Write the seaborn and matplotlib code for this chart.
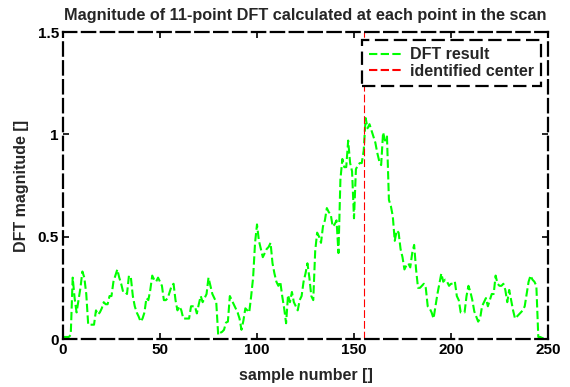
import numpy as np
import pandas as pd
import matplotlib
matplotlib.use("Agg")
import matplotlib.pyplot as plt
import seaborn as sns
from matplotlib.lines import Line2D

dft_values = [
    0.01, 0.01, 0.01, 0.01, 0.02, 0.30, 0.20, 0.13, 0.19, 0.25,
    0.33, 0.30, 0.22, 0.07, 0.07, 0.07, 0.07, 0.14, 0.12, 0.13,
    0.15, 0.18, 0.17, 0.17, 0.21, 0.21, 0.28, 0.31, 0.34, 0.30,
    0.27, 0.23, 0.23, 0.22, 0.31, 0.30, 0.21, 0.16, 0.13, 0.11,
    0.085, 0.10, 0.13, 0.20, 0.19, 0.24, 0.31, 0.29, 0.28, 0.30,
    0.28, 0.26, 0.19, 0.19, 0.20, 0.23, 0.26, 0.27, 0.19, 0.14,
    0.16, 0.14, 0.10, 0.10, 0.10, 0.10, 0.16, 0.16, 0.16, 0.125,
    0.17, 0.21, 0.18, 0.20, 0.22, 0.30, 0.26, 0.22, 0.20, 0.18,
    0.02, 0.03, 0.035, 0.045, 0.08, 0.085, 0.21, 0.19, 0.17, 0.15,
    0.13, 0.10, 0.045, 0.09, 0.15, 0.14, 0.13, 0.21, 0.30, 0.47,
    0.56, 0.48, 0.44, 0.40, 0.42, 0.44, 0.45, 0.47, 0.37, 0.32,
    0.28, 0.26, 0.28, 0.21, 0.15, 0.077, 0.215, 0.18, 0.23, 0.18,
    0.16, 0.14, 0.19, 0.21, 0.28, 0.32, 0.37, 0.30, 0.21, 0.19,
    0.43, 0.52, 0.50, 0.47, 0.55, 0.58, 0.64, 0.62, 0.61, 0.55,
    0.56, 0.58, 0.42, 0.78, 0.88, 0.84, 0.84, 0.97, 0.86, 0.82,
    0.59, 0.83, 0.85, 0.86, 0.86, 0.92, 1.08, 1.03, 1.05, 1.02,
    0.99, 0.96, 0.91, 0.87, 0.85, 1.01, 0.97, 0.99, 0.68, 0.65,
    0.60, 0.48, 0.53, 0.52, 0.44, 0.40, 0.34, 0.36, 0.37, 0.35,
    0.42, 0.46, 0.34, 0.25, 0.25, 0.26, 0.27, 0.25, 0.16, 0.15,
    0.13, 0.10, 0.16, 0.22, 0.27, 0.32, 0.28, 0.29, 0.28, 0.26,
    0.27, 0.27, 0.28, 0.21, 0.19, 0.13, 0.13, 0.13, 0.21, 0.26,
    0.23, 0.19, 0.135, 0.11, 0.085, 0.10, 0.16, 0.18, 0.20, 0.16,
    0.19, 0.22, 0.22, 0.31, 0.27, 0.26, 0.26, 0.27, 0.24, 0.18,
    0.24, 0.19, 0.14, 0.10, 0.11, 0.12, 0.13, 0.14, 0.16, 0.22,
    0.28, 0.31, 0.29, 0.28, 0.26, 0.01, 0.01, 0.005, 0.005,
]
sample_numbers = list(range(len(dft_values)))
center_sample = 155
x_ticks = [0, 50, 100, 150, 200, 250]
y_ticks = [0, 0.5, 1, 1.5]
y_tick_labels = ["0", "0.5", "1", "1.5"]

sns.set_style("white")
plt.rcParams["font.family"] = ["Liberation Sans", "DejaVu Sans"]
plt.rcParams["font.weight"] = "bold"

df = pd.DataFrame({"sample": sample_numbers, "mag": dft_values})

fig = plt.figure(figsize=(5.7, 3.87), dpi=100)
ax = fig.add_axes([0.1105, 0.124, 0.8509, 0.793])

sns.lineplot(data=df, x="sample", y="mag", ax=ax, color="#00ff00",
             linewidth=1.5, linestyle=(0, (4.0, 1.6)), legend=False)
ax.axvline(center_sample, color="#ff0000", linewidth=0.8,
           linestyle=(0, (7, 2.7)))

ax.set_xlim(0, 250)
ax.set_ylim(0, 1.5)
ax.set_xticks(x_ticks)
ax.set_xticklabels([str(t) for t in x_ticks], fontsize=11, fontweight="bold")
ax.set_yticks(y_ticks)
ax.set_yticklabels(y_tick_labels, fontsize=11, fontweight="bold")
ax.tick_params(direction="in", length=4, width=1.2, top=True, right=True,
               bottom=True, left=True, pad=3, colors="black")

for s in ax.spines.values():
    s.set_visible(True)
    s.set_color("black")
    s.set_linewidth(1.6)
    s.set_linestyle((0, (6, 2.5)))

ax.set_title("Magnitude of 11-point DFT calculated at each point in the scan",
             fontsize=11.7, fontweight="bold", pad=9)
ax.set_xlabel("sample number []", fontsize=11.5, fontweight="bold", labelpad=8)
ax.set_ylabel("DFT magnitude []", fontsize=11.5, fontweight="bold", labelpad=6)

handles = [
    Line2D([0], [0], color="#00ff00", linewidth=1.5, linestyle=(0, (4.0, 1.6))),
    Line2D([0], [0], color="#ff0000", linewidth=1.5, linestyle=(0, (4.0, 1.6))),
]
leg = ax.legend(handles, ["DFT result", "identified center"], loc="upper right",
                bbox_to_anchor=(0.993, 0.985), fancybox=False, frameon=True,
                prop={"weight": "bold", "size": 11.5}, handlelength=2.0,
                borderpad=0.45, labelspacing=0.12, handletextpad=0.55,
                borderaxespad=0.2)
frame = leg.get_frame()
frame.set_edgecolor("black")
frame.set_linewidth(1.6)
frame.set_linestyle((0, (6, 2.5)))
frame.set_facecolor("white")
frame.set_alpha(1)

fig.savefig("out.png", dpi=100, facecolor="white")
